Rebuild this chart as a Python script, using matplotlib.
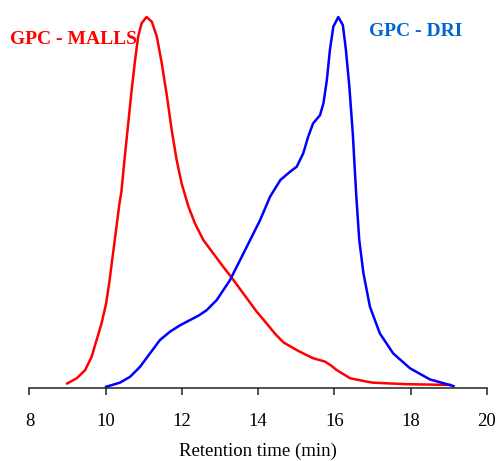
import matplotlib
matplotlib.use("Agg")
import matplotlib.pyplot as plt

plt.rcParams['font.family'] = ['Liberation Serif', 'DejaVu Serif']

# GPC-MALLS trace (light scattering), normalized intensity in %
malls_t = [8.99, 9.24, 9.46, 9.63, 9.76, 9.89, 10.01, 10.09, 10.18, 10.27,
           10.36, 10.41, 10.50, 10.59, 10.68, 10.77, 10.85, 10.94, 11.07, 11.21,
           11.34, 11.47, 11.60, 11.73, 11.86, 11.99, 12.17, 12.34, 12.56, 12.82,
           13.08, 13.30, 13.70, 13.95, 14.22, 14.45, 14.66, 15.01, 15.22, 15.44,
           15.75, 15.90, 16.06, 16.41, 16.84, 17.02, 17.89, 19.03]
malls_y = [1.1, 2.5, 4.7, 8.3, 12.8, 17.3, 22.7, 28.1, 35.3, 42.5,
           49.7, 52.8, 62.3, 71.3, 80.3, 88.4, 94.7, 98.3, 100.0, 98.7,
           94.7, 87.5, 79.0, 69.5, 61.4, 55.1, 48.8, 44.3, 39.8, 36.2,
           32.6, 29.7, 24.1, 20.6, 17.3, 14.4, 12.2, 10.1, 9.0, 7.9,
           7.0, 6.0, 4.7, 2.5, 1.6, 1.3, 0.9, 0.7]

# GPC-DRI trace (refractive index), normalized intensity in %
dri_t = [10.01, 10.37, 10.64, 10.90, 11.16, 11.42, 11.69, 11.95, 12.21, 12.45,
         12.65, 12.91, 13.26, 13.70, 14.05, 14.31, 14.58, 14.83, 15.01, 15.18,
         15.31, 15.44, 15.62, 15.71, 15.80, 15.88, 15.97, 16.10, 16.22, 16.30,
         16.39, 16.48, 16.57, 16.65, 16.76, 16.93, 17.19, 17.54, 17.98, 18.50,
         19.12]
dri_y = [0.2, 1.3, 2.9, 5.6, 9.2, 12.8, 15.1, 16.8, 18.2, 19.5,
         20.9, 23.6, 29.0, 38.0, 45.2, 51.5, 56.0, 58.2, 59.6, 63.2,
         67.7, 71.3, 73.5, 76.7, 83.0, 91.1, 97.4, 100.0, 97.8, 91.1,
         81.2, 68.6, 52.0, 39.8, 30.8, 21.8, 14.6, 9.2, 5.2, 2.2,
         0.4]

xticks = [8, 10, 12, 14, 16, 18, 20]

fig = plt.figure(figsize=(4.99, 4.61), dpi=100)
ax = fig.add_axes([0.0591, 0.1594, 0.9168, 0.8037])

ax.plot(malls_t, malls_y, color='#ff0000', lw=1.8, clip_on=False,
        solid_joinstyle='round')
ax.plot(dri_t, dri_y, color='#0000ff', lw=1.8, clip_on=False,
        solid_joinstyle='round')

ax.set_xlim(8, 20)
ax.set_ylim(0, 100)
ax.set_xticks(xticks)
ax.set_yticks([])
for s in ['top', 'right', 'left']:
    ax.spines[s].set_visible(False)
ax.spines['bottom'].set_linewidth(1.1)
ax.spines['bottom'].set_color('#222222')
ax.tick_params(axis='x', direction='out', length=5, width=1.1, pad=13,
               labelsize=13.5, color='#222222')
ax.set_xlabel('Retention time (min)', fontsize=13.5, labelpad=9.5)

fig.text(10 / 499, 1 - 39 / 461, 'GPC - MALLS', color='#ff0000',
         fontsize=14, fontweight='bold', va='center', ha='left')
fig.text(369 / 499, 1 - 32 / 461, 'GPC - DRI', color='#0066cc',
         fontsize=14, fontweight='bold', va='center', ha='left')

fig.savefig('out.png', dpi=100)
